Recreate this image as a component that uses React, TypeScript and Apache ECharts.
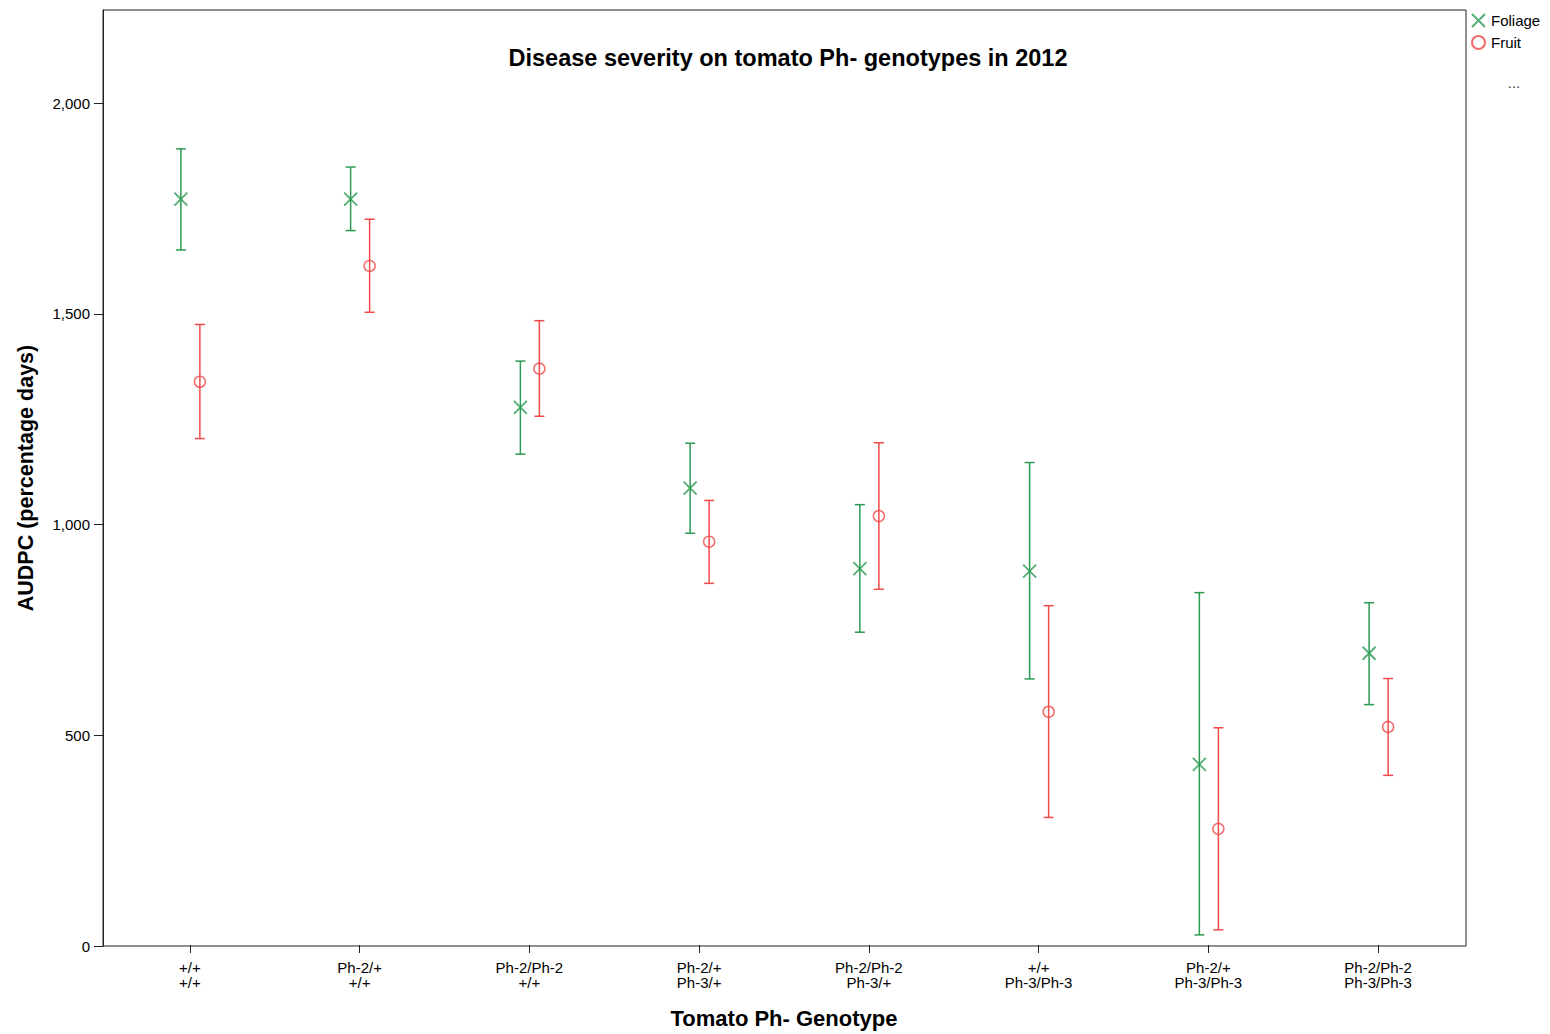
import React, { useEffect, useRef } from "react";
import * as echarts from "echarts";

// Genotype combinations (Ph-2 line / Ph-3 line)
const genotypes = [
  "+/+\n+/+",
  "Ph-2/+\n+/+",
  "Ph-2/Ph-2\n+/+",
  "Ph-2/+\nPh-3/+",
  "Ph-2/Ph-2\nPh-3/+",
  "+/+\nPh-3/Ph-3",
  "Ph-2/+\nPh-3/Ph-3",
  "Ph-2/Ph-2\nPh-3/Ph-3",
];

// AUDPC means and error-bar limits
const foliageMean = [1772, 1772, 1277, 1085, 894, 888, 429, 693];
const foliageLow = [1651, 1697, 1166, 978, 743, 632, 24, 571];
const foliageHigh = [1891, 1848, 1387, 1192, 1046, 1146, 837, 813];

const fruitMean = [1338, 1613, 1369, 958, 1019, 554, 276, 518];
const fruitLow = [1203, 1503, 1256, 859, 845, 303, 36, 403];
const fruitHigh = [1474, 1724, 1483, 1056, 1193, 806, 516, 633];

const yTicks = [0, 500, 1000, 1500, 2000];
const Y_MAX = 2221;

const GREEN = "#2b9a52";
const RED = "#f04a4a";
const FONT = "'Liberation Sans', Arial, sans-serif";

function errorBarSeries(name: string, low: number[], high: number[], color: string, offset: number) {
  return {
    type: "custom",
    name,
    silent: true,
    xAxisIndex: 1,
    yAxisIndex: 1,
    data: low.map((l, i) => [i, l, high[i]]),
    encode: { x: 0, y: [1, 2] },
    renderItem: (_params: any, api: any) => {
      const lo = api.coord([api.value(0), api.value(1)]);
      const hi = api.coord([api.value(0), api.value(2)]);
      const x = lo[0] + offset;
      const cap = 5;
      const style = { stroke: color, lineWidth: 1.5 };
      return {
        type: "group",
        children: [
          { type: "line", shape: { x1: x, y1: lo[1], x2: x, y2: hi[1] }, style },
          { type: "line", shape: { x1: x - cap, y1: lo[1], x2: x + cap, y2: lo[1] }, style },
          { type: "line", shape: { x1: x - cap, y1: hi[1], x2: x + cap, y2: hi[1] }, style },
        ],
      };
    },
    z: 2,
  };
}

export default function App() {
  const ref = useRef<HTMLDivElement>(null);

  useEffect(() => {
    if (!ref.current) return;
    const chart = echarts.init(ref.current, undefined, { renderer: "svg" });
    chart.setOption({
      animation: false,
      backgroundColor: "#fff",
      textStyle: { fontFamily: FONT },
      grid: [
        // frame and value axis
        {
          left: 103,
          right: 84,
          top: 10,
          bottom: 88,
          show: true,
          borderColor: "#222",
          borderWidth: 1,
          backgroundColor: "transparent",
        },
        // category band area for the genotypes
        { left: 105, right: 87, top: 10, bottom: 88 },
      ],
      graphic: [
        {
          type: "text",
          x: 788,
          y: 58,
          style: {
            text: "Disease severity on tomato Ph- genotypes in 2012",
            fontFamily: FONT,
            fontSize: 23.5,
            fontWeight: "bold",
            fill: "#000",
            align: "center",
            verticalAlign: "middle",
          },
        },
        {
          type: "text",
          x: 1514,
          y: 82,
          style: {
            text: "...",
            fontFamily: FONT,
            fontSize: 15,
            fill: "#444",
            align: "center",
            verticalAlign: "middle",
          },
        },
      ],
      legend: {
        orient: "vertical",
        left: 1471,
        top: 13,
        padding: 0,
        itemWidth: 13,
        itemHeight: 13,
        itemGap: 7,
        textStyle: { fontFamily: FONT, fontSize: 15, color: "#000", padding: [0, 0, 0, 1] },
        data: ["Foliage", "Fruit"],
      },
      xAxis: [
        {
          type: "category",
          gridIndex: 0,
          data: genotypes,
          show: false,
        },
        {
          type: "category",
          gridIndex: 1,
          data: genotypes,
          boundaryGap: true,
          axisLine: { show: false },
          axisTick: { show: true, alignWithLabel: true, length: 8, lineStyle: { color: "#222" } },
          axisLabel: {
            fontFamily: FONT,
            fontSize: 15,
            lineHeight: 15,
            color: "#000",
            margin: 15,
            interval: 0,
          },
          splitLine: { show: false },
          name: "Tomato Ph- Genotype",
          nameLocation: "middle",
          nameGap: 62,
          nameTextStyle: { fontFamily: FONT, fontSize: 22, fontWeight: "bold", color: "#000" },
        },
      ],
      yAxis: [
        {
          type: "value",
          gridIndex: 0,
          min: 0,
          max: Y_MAX,
          axisLine: { show: true, lineStyle: { color: "#222", width: 1 } },
          axisTick: { show: true, length: 9, customValues: yTicks, lineStyle: { color: "#222" } },
          axisLabel: {
            customValues: yTicks,
            fontFamily: FONT,
            fontSize: 15,
            color: "#000",
            margin: 13,
            formatter: (v: number) => v.toLocaleString("en-US"),
          },
          splitLine: { show: false },
          name: "AUDPC (percentage days)",
          nameLocation: "middle",
          nameGap: 66,
          nameTextStyle: { fontFamily: FONT, fontSize: 21.5, fontWeight: "bold", color: "#000" },
        },
        {
          type: "value",
          gridIndex: 1,
          min: 0,
          max: Y_MAX,
          show: false,
          splitLine: { show: false },
        },
      ],
      series: [
        {
          type: "scatter",
          name: "Foliage",
          xAxisIndex: 1,
          yAxisIndex: 1,
          data: foliageMean,
          symbol: "path://M0,0L12,12M12,0L0,12",
          symbolSize: 13,
          symbolOffset: [-9, 0],
          itemStyle: { color: "rgba(0,0,0,0)", borderColor: GREEN, borderWidth: 1.8 },
          z: 3,
        },
        {
          type: "scatter",
          name: "Fruit",
          xAxisIndex: 1,
          yAxisIndex: 1,
          data: fruitMean,
          symbol: "circle",
          symbolSize: 11,
          symbolOffset: [10, 0],
          itemStyle: { color: "rgba(0,0,0,0)", borderColor: RED, borderWidth: 1.5 },
          z: 3,
        },
        errorBarSeries("Foliage error", foliageLow, foliageHigh, GREEN, -9),
        errorBarSeries("Fruit error", fruitLow, fruitHigh, RED, 10),
      ],
    });
    return () => chart.dispose();
  }, []);

  return (
    <div
      ref={ref}
      style={{ position: "absolute", left: 0, top: 0, width: 1550, height: 1034 }}
    />
  );
}
